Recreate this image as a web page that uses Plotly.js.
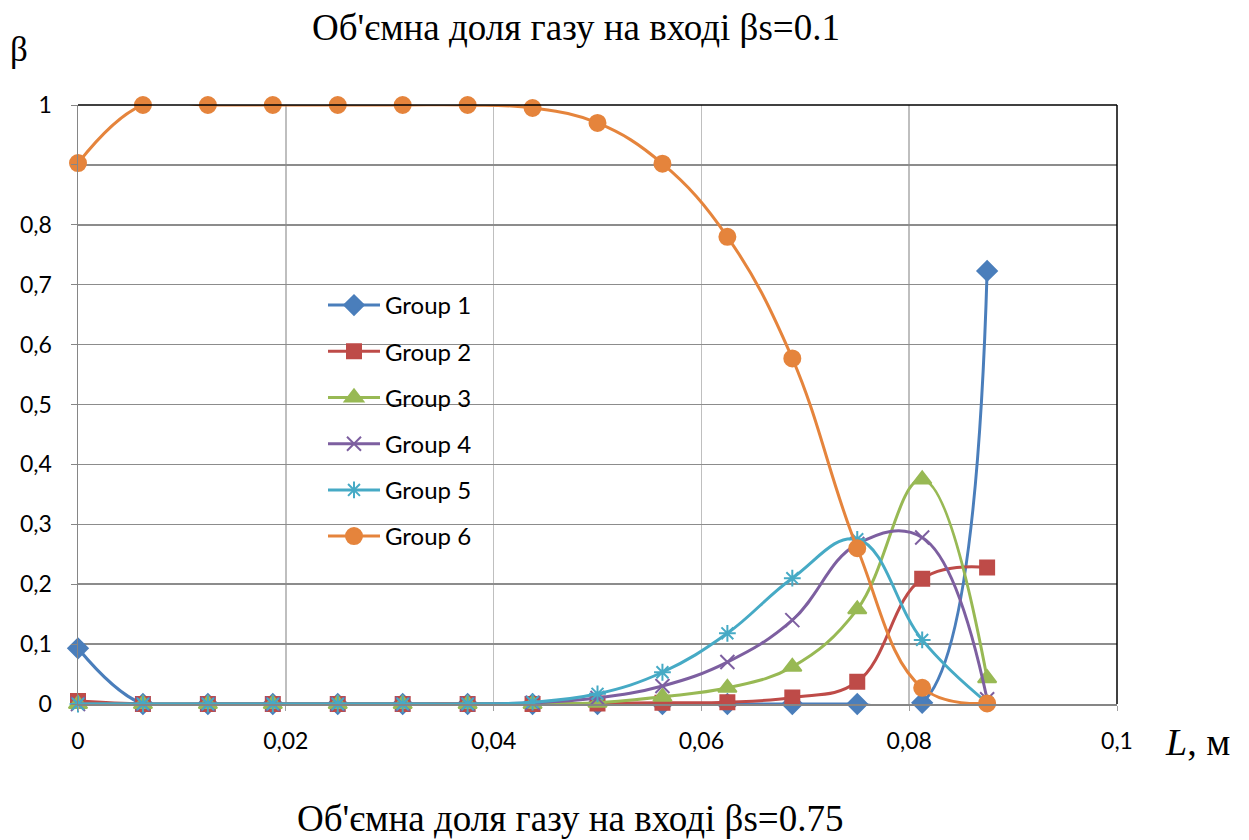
<!DOCTYPE html>
<html>
<head>
<meta charset="utf-8">
<script src="https://cdn.plot.ly/plotly-3.0.1.min.js"></script>
<style>
  html, body { margin: 0; padding: 0; background: #fff; }
  #chart { width: 1249px; height: 840px; }
</style>
</head>
<body>
<div id="chart"></div>
<script>
// Position along the channel, m
const L = [0, 0.00625, 0.0125, 0.01875, 0.025, 0.03125, 0.0375, 0.04375,
           0.05, 0.05625, 0.0625, 0.06875, 0.075, 0.08125, 0.0875];

// Volume fraction of each bubble group
const group1 = [0.093, 0, 0, 0, 0, 0, 0, 0, 0, 0, 0, 0, 0, 0.002, 0.723];
const group2 = [0.005, 0, 0, 0, 0, 0, 0, 0, 0.001, 0.002, 0.003, 0.011, 0.037, 0.209, 0.228];
const group3 = [0, 0, 0, 0, 0, 0, 0, 0, 0.002, 0.012, 0.027, 0.062, 0.158, 0.375, 0.043];
const group4 = [0, 0, 0, 0, 0, 0, 0, 0.002, 0.010, 0.030, 0.070, 0.140, 0.267, 0.278, 0.008];
const group5 = [0, 0, 0, 0, 0, 0, 0, 0.003, 0.017, 0.053, 0.118, 0.210, 0.275, 0.107, 0.002];
const group6 = [0.903, 1, 1, 1, 1, 1, 1, 0.995, 0.970, 0.902, 0.780, 0.577, 0.260, 0.027, 0.001];

const seriesNames = ['Group 1', 'Group 2', 'Group 3', 'Group 4', 'Group 5', 'Group 6'];

// Y tick labels (0.9 line is drawn without a label)
const yTickVals = [0, 0.1, 0.2, 0.3, 0.4, 0.5, 0.6, 0.7, 0.8, 0.9, 1];
const yTickText = ['0', '0,1', '0,2', '0,3', '0,4', '0,5', '0,6', '0,7', '0,8', '', '1'];

const styles = [
  { color: '#4A7EBB', symbol: 'diamond', size: 15 },
  { color: '#BE4B48', symbol: 'square', size: 14 },
  { color: '#98B954', symbol: 'triangle-up', size: 16 },
  { color: '#7D5FA0', symbol: 'x-thin-open', size: 14 },
  { color: '#46AAC5', symbol: 'asterisk-open', size: 14 },
  { color: '#E5843C', symbol: 'circle', size: 16 }
];

const values = [group1, group2, group3, group4, group5, group6];

const traces = values.map((ys, i) => ({
  x: L,
  y: ys,
  name: seriesNames[i],
  legendgroup: 'g' + i,
  type: 'scatter',
  mode: 'lines+markers',
  cliponaxis: false,
  line: { color: styles[i].color, width: 3, shape: 'spline', smoothing: 1.15 },
  marker: {
    color: styles[i].color,
    symbol: styles[i].symbol,
    size: styles[i].size,
    line: { color: styles[i].color, width: 2 }
  }
}));

const serif = 'Liberation Serif, Times New Roman, serif';
const sans = 'Lato, Open Sans, sans-serif';

const layout = {
  width: 1249,
  height: 840,
  margin: { l: 78, r: 132, t: 105, b: 136 },
  paper_bgcolor: '#ffffff',
  plot_bgcolor: '#ffffff',
  separators: ', ',
  showlegend: true,
  title: {
    text: "Об'ємна доля газу на вході βs=0.1",
    font: { family: serif, size: 37, color: '#000' },
    x: 576 / 1249,
    xanchor: 'center',
    xref: 'container',
    y: 1 - 27 / 840,
    yanchor: 'middle',
    yref: 'container'
  },
  xaxis: {
    range: [0, 0.1],
    tick0: 0,
    dtick: 0.02,
    showgrid: true,
    gridcolor: '#BFBFBF',
    gridwidth: 1.5,
    zeroline: false,
    showline: true,
    linecolor: '#868686',
    linewidth: 2,
    ticks: 'outside',
    ticklen: 5,
    tickcolor: '#A0A0A0',
    tickwidth: 1,
    ticklabelstandoff: 10,
    tickfont: { family: sans, size: 23, color: '#000' }
  },
  yaxis: {
    range: [0, 1],
    tickvals: yTickVals,
    ticktext: yTickText,
    showgrid: true,
    gridcolor: '#8C8C8C',
    gridwidth: 1.5,
    zeroline: false,
    showline: true,
    linecolor: '#868686',
    linewidth: 1.5,
    ticks: 'outside',
    ticklen: 6,
    tickcolor: '#868686',
    tickwidth: 1,
    ticklabelstandoff: 14,
    tickfont: { family: sans, size: 23, color: '#000' }
  },
  legend: {
    x: (323 - 78) / 1039,
    y: (704 - 283) / 599,
    xanchor: 'left',
    yanchor: 'top',
    bgcolor: 'rgba(255,255,255,0)',
    borderwidth: 0,
    font: { family: sans, size: 24, color: '#000' },
    tracegroupgap: 12,
    traceorder: 'grouped',
    itemwidth: 52
  },
  shapes: [
    { type: 'line', xref: 'paper', yref: 'paper', x0: 0, x1: 1, y0: 1, y1: 1,
      line: { color: '#000', width: 1.5 } },
    { type: 'line', xref: 'paper', yref: 'paper', x0: 1, x1: 1, y0: 0, y1: 1,
      line: { color: '#000', width: 1.5 } }
  ],
  annotations: [
    { text: 'β', xref: 'paper', yref: 'paper', x: (19 - 78) / 1039, y: (704 - 50) / 599,
      xanchor: 'center', yanchor: 'middle', showarrow: false,
      font: { family: serif, size: 35, color: '#000' } },
    { text: '<i>L</i>, м', xref: 'paper', yref: 'paper', x: (1197 - 78) / 1039, y: (704 - 742) / 599,
      xanchor: 'center', yanchor: 'middle', showarrow: false,
      font: { family: serif, size: 38, color: '#000' } },
    { text: "Об'ємна доля газу на вході βs=0.75", xref: 'paper', yref: 'paper',
      x: (570 - 78) / 1039, y: (704 - 818) / 599,
      xanchor: 'center', yanchor: 'middle', showarrow: false,
      font: { family: serif, size: 37, color: '#000' } }
  ]
};

Plotly.newPlot('chart', traces, layout, { displayModeBar: false, staticPlot: true });
</script>
</body>
</html>
